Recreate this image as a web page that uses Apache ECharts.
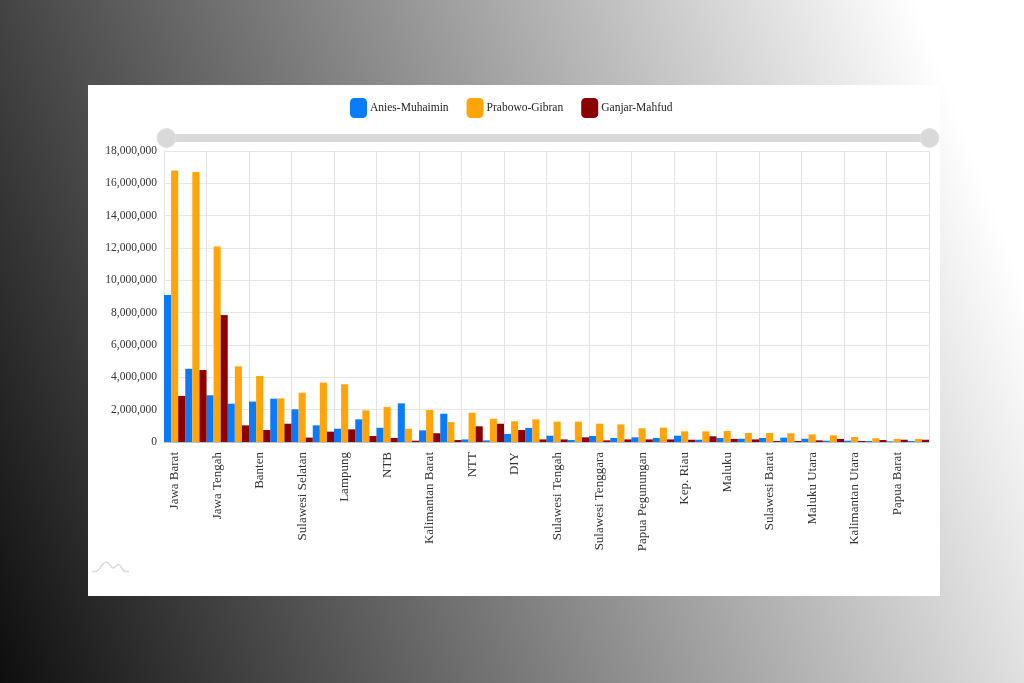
<!DOCTYPE html>
<html>
<head>
<meta charset="utf-8">
<style>
html,body{margin:0;padding:0;width:1024px;height:683px;overflow:hidden;}
body{background:linear-gradient(69deg,#0e0e0e 0%,#fff 91.5%);}
#chart{position:absolute;left:88px;top:85px;width:852px;height:511px;background:#fff;}
</style>
<script src="https://cdn.jsdelivr.net/npm/echarts@6/dist/echarts.min.js"></script>
</head>
<body>
<div id="chart"></div>
<script>
var provinces = ['Jawa Barat','Jawa Timur','Jawa Tengah','Sumatera Utara','Banten','DKI Jakarta','Sulawesi Selatan','Sumatera Selatan','Lampung','Riau','NTB','Bali','Kalimantan Barat','Sumatera Barat','NTT','Aceh','DIY','Kalimantan Timur','Sulawesi Tengah','Jambi','Sulawesi Tenggara','Kalimantan Selatan','Papua Pegunungan','Kalimantan Tengah','Kep. Riau','Sulawesi Utara','Maluku','Bangka Belitung','Sulawesi Barat','Bengkulu','Maluku Utara','Gorontalo','Kalimantan Utara','Papua Tengah','Papua Barat','Papua Selatan'];
var aniesMuhaimin = [9100000,4530000,2890000,2370000,2500000,2680000,2020000,1030000,820000,1400000,880000,2390000,720000,1750000,160000,100000,500000,870000,390000,120000,370000,250000,290000,250000,390000,140000,250000,200000,250000,270000,200000,80000,80000,60000,40000,60000];
var prabowoGibran = [16800000,16700000,12100000,4680000,4080000,2700000,3050000,3670000,3570000,1960000,2160000,820000,1980000,1240000,1810000,1440000,1280000,1400000,1260000,1260000,1130000,1090000,850000,890000,660000,660000,680000,560000,560000,540000,470000,410000,310000,230000,190000,190000];
var ganjarMahfud = [2850000,4450000,7850000,1030000,740000,1130000,270000,640000,780000,370000,250000,80000,540000,120000,970000,1130000,740000,160000,160000,290000,100000,160000,160000,160000,140000,350000,190000,160000,60000,60000,100000,190000,60000,120000,140000,140000];
var legendNames = ['Anies-Muhaimin','Prabowo-Gibran','Ganjar-Mahfud'];
var colors = ['#0a7bfb','#ffa50a','#8b0000'];
var seriesValues = [aniesMuhaimin, prabowoGibran, ganjarMahfud];
var font = '"Liberation Serif","Times New Roman",serif';

var chart = echarts.init(document.getElementById('chart'), null, {renderer:'canvas'});
chart.setOption({
  animation:false,
  textStyle:{fontFamily:font},
  color:colors,
  legend:{
    top:8, left:257, itemWidth:17, itemHeight:20, itemGap:18,
    data:legendNames,
    textStyle:{fontFamily:font,fontSize:11.5,color:'#222',padding:[0,0,0,-2]}
  },
  grid:{left:76, top:66, width:765, height:291, containLabel:false},
  dataZoom:[{
    type:'slider', xAxisIndex:0, start:0, end:100,
    left:76, top:49, width:765, height:8,
    showDetail:false, showDataShadow:false, brushSelect:false, moveHandleSize:0,
    backgroundColor:'#d9d9d9', fillerColor:'#d9d9d9', borderColor:'transparent', borderRadius:0,
    handleIcon:'circle', handleSize:19,
    handleStyle:{color:'#d9d9d9',borderColor:'#e2e2e2',borderWidth:1}
  }],
  xAxis:{
    type:'category', data:provinces,
    axisLine:{show:true,lineStyle:{color:'#b8c4d0'}},
    axisTick:{show:false},
    axisLabel:{rotate:90,interval:1,fontFamily:font,fontSize:13,color:'#333',margin:10},
    splitLine:{show:true,interval:1,lineStyle:{color:'#e2e2e2'}}
  },
  yAxis:{
    type:'value', min:0, max:18000000, interval:2000000,
    axisLine:{show:true,lineStyle:{color:'#e0e6e0'}},
    axisTick:{show:false},
    axisLabel:{fontFamily:font,fontSize:11.5,color:'#333',margin:7,
      formatter:function(v){return v.toLocaleString('en-US');}},
    splitLine:{show:true,lineStyle:{color:'#e6e6e6'}}
  },
  series:legendNames.map(function(n,i){
    return {name:n,type:'bar',data:seriesValues[i],barGap:'0%',barCategoryGap:'0%',itemStyle:{color:colors[i]}};
  }),
  graphic:[{
    type:'polyline', silent:true,
    shape:{points:[[4,486.5],[8,486.5],[10,485.5],[12,483],[14,480],[16,478],[18,477],[20,477.5],[22,480],[24,482.5],[26,483],[28,481],[30,479.5],[32,480.5],[34,483.5],[36,486],[38,486.5],[41,486.5]]},
    style:{stroke:'#dadada',lineWidth:1.5,fill:null}
  }]
});
</script>
</body>
</html>
